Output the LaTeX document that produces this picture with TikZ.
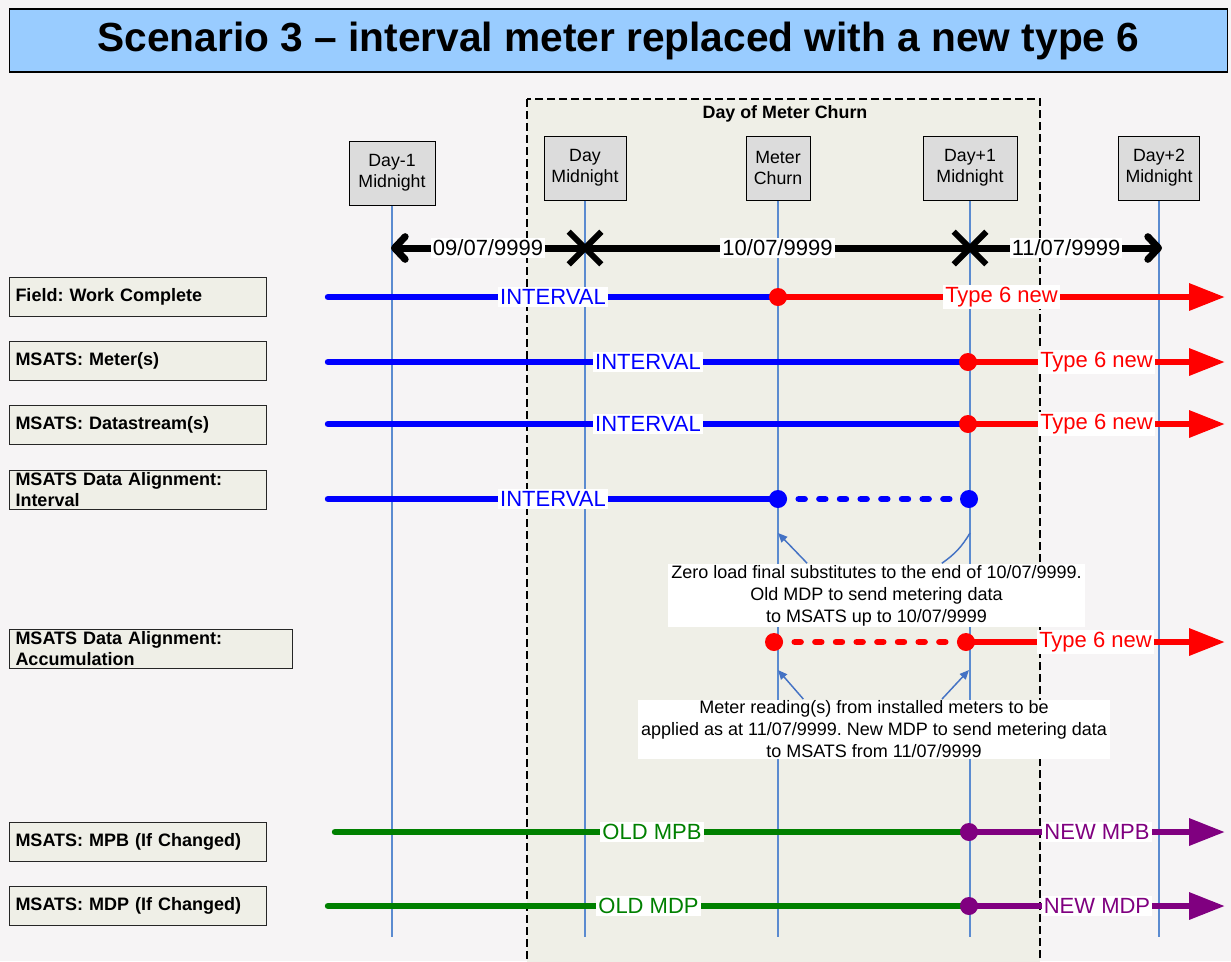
\documentclass[tikz,border=0pt]{standalone}
\usepackage{fontspec}
\setmainfont{Liberation Sans}
\usetikzlibrary{arrows.meta,shapes.misc}

\definecolor{bgc}{RGB}{246,244,245}
\definecolor{titlec}{RGB}{153,204,255}
\definecolor{churnc}{RGB}{239,239,231}
\definecolor{hdrc}{RGB}{220,220,220}
\definecolor{lanec}{RGB}{239,239,231}
\definecolor{tickc}{RGB}{91,139,208}
\definecolor{notec}{RGB}{68,114,196}
\definecolor{oldc}{RGB}{0,128,0}
\definecolor{newc}{RGB}{128,0,128}

\tikzset{every picture/.style={line width=0.75pt}}
\tikzset{
  hdr/.style={draw=black, fill=hdrc, align=center, inner sep=0pt, minimum height=48pt, font=\fontsize{13.3}{15.75}\selectfont},
  lane/.style={draw=black!85, fill=lanec, anchor=west, align=left, text width=183.75pt, inner xsep=4.5pt, inner ysep=1pt, minimum height=29.25pt, font=\bfseries\fontsize{13.5}{15.75}\selectfont},
  tick/.style={color=tickc, line width=0.9pt},
  band/.style={line width=4.8pt, line cap=round},
  lbl/.style={fill=white, inner sep=1.5pt, font=\fontsize{16.5}{18}\selectfont},
  dot/.style={circle, fill, inner sep=0pt, minimum size=13.5pt},
  tip/.style={-{Triangle[length=27pt,width=19.5pt]}},
  datel/.style={line width=5.25pt, line cap=round},
  xmark/.style={cross out, draw=black, line width=4.5pt, minimum size=20pt, inner sep=0pt},
  note/.style={fill=white, align=center, inner xsep=2.5pt, inner ysep=1pt, font=\fontsize{13.5}{16.5}\selectfont},
  pointer/.style={color=notec, line width=1.1pt},
  gap/.style={dash pattern=on 4.5pt off 11pt},
}

\begin{document}
\frenchspacing
\begin{tikzpicture}[x=0.75pt,y=0.75pt,yscale=-1,xscale=1]
\useasboundingbox (0,0) rectangle (1231,961);
\fill [bgc] (0,0) rectangle (1231,961);

% Title
\draw (618.5,40.5) node (ttl) [draw=black, line width=1.2pt, fill=titlec, minimum width=913.5pt, minimum height=47.25pt, font=\bfseries\fontsize{30.5}{36}\selectfont] {Scenario 3 – interval meter replaced with a new type 6};

% Day of meter churn
\draw [fill=churnc, dash pattern=on 6pt off 3pt, line width=1.1pt] (527,99) rectangle (1040,968);
\draw (785,114) node (churn) [font=\bfseries\fontsize{13.4}{16}\selectfont] {Day of Meter Churn};

% Time headers
\draw (392,173) node (hd1) [hdr, minimum width=64.5pt] {Day-1\\Midnight};
\draw (585,168) node (hd2) [hdr, minimum width=61.5pt] {Day\\Midnight};
\draw (778,168) node (hmc) [hdr, minimum width=48pt] {Meter\\Churn};
\draw (970,168) node (hd3) [hdr, minimum width=70.5pt] {Day+1\\Midnight};
\draw (1159,168) node (hd4) [hdr, minimum width=60.75pt] {Day+2\\Midnight};

\coordinate (bot) at (0,937);
\foreach \h in {hd1,hd2,hmc,hd3,hd4}
  \draw [tick] (\h.south) -- (\h.south |- bot);

% Lanes
\draw (9,297) node (lwork) [lane] {Field: Work Complete};
\draw (9,361) node (lmeter) [lane] {MSATS: Meter(s)};
\draw (9,425) node (lstream) [lane] {MSATS: Datastream(s)};
\draw (9,489.5) node (lint) [lane] {MSATS Data Alignment:\\Interval};
\draw (9,649) node (lacc) [lane, text width=203.25pt] {MSATS Data Alignment:\\Accumulation};
\draw (9,841.5) node (lmpb) [lane] {MSATS: MPB (If Changed)};
\draw (9,905.5) node (lmdp) [lane] {MSATS: MDP (If Changed)};

% Dates
\coordinate (dL) at (391,248);
\coordinate (xa) at (585,248);
\coordinate (xb) at (970,248);
\coordinate (dR) at (1162,248);
\draw [datel, {Straight Barb[length=8pt,width=17pt,round]}-] (dL) -- node [lbl] {09/07/9999} (xa);
\draw [datel] (xa) -- node [lbl] {10/07/9999} (xb);
\draw [datel, -{Straight Barb[length=8pt,width=17pt,round]}] (xb) -- node [lbl] {11/07/9999} (dR);
\draw (xa) node (xam) [xmark] {};
\draw (xb) node (xbm) [xmark] {};

% Field: Work Complete
\coordinate (w0) at (328,297);
\coordinate (w1) at (778,297);
\coordinate (w2) at (1225,297);
\draw [band, blue] (w0) -- node [lbl, text=blue] {INTERVAL} (w1);
\draw [band, red, tip] (w1) -- node [lbl, text=red] {Type 6 new} (w2);
\draw (w1) node (wd) [dot, red] {};

% MSATS: Meter(s)
\coordinate (m0) at (328,362);
\coordinate (m1) at (968,362);
\coordinate (m2) at (1225,362);
\draw [band, blue] (m0) -- node [lbl, text=blue] {INTERVAL} (m1);
\draw [band, red, tip] (m1) -- node [lbl, text=red] {Type 6 new} (m2);
\draw (m1) node (md) [dot, red] {};

% MSATS: Datastream(s)
\coordinate (s0) at (328,424);
\coordinate (s1) at (968,424);
\coordinate (s2) at (1225,424);
\draw [band, blue] (s0) -- node [lbl, text=blue] {INTERVAL} (s1);
\draw [band, red, tip] (s1) -- node [lbl, text=red] {Type 6 new} (s2);
\draw (s1) node (sd) [dot, red] {};

% Data alignment: interval
\coordinate (i0) at (328,499);
\coordinate (i1) at (778,499);
\coordinate (i2) at (969,499);
\draw [band, blue] (i0) -- node [lbl, text=blue] {INTERVAL} (i1);
\draw [band, blue, gap] (i1) -- (i2);
\draw (i1) node (id1) [dot, blue] {};
\draw (i2) node (id2) [dot, blue] {};

% Data alignment: accumulation
\coordinate (a1) at (774,642);
\coordinate (a2) at (966,642);
\coordinate (a3) at (1225,642);
\draw [band, red, gap] (a1) -- (a2);
\draw [band, red, tip] (a2) -- node [lbl, text=red] {Type 6 new} (a3);
\draw (a1) node (ad1) [dot, red] {};
\draw (a2) node (ad2) [dot, red] {};

% MPB
\coordinate (b0) at (335,832);
\coordinate (b1) at (969,832);
\coordinate (b2) at (1225,832);
\draw [band, oldc] (b0) -- node [lbl, text=oldc] {OLD MPB} (b1);
\draw [band, newc, tip] (b1) -- node [lbl, text=newc] {NEW MPB} (b2);
\draw (b1) node (bd) [dot, newc] {};

% MDP
\coordinate (p0) at (328,906);
\coordinate (p1) at (969,906);
\coordinate (p2) at (1225,906);
\draw [band, oldc] (p0) -- node [lbl, text=oldc] {OLD MDP} (p1);
\draw [band, newc, tip] (p1) -- node [lbl, text=newc] {NEW MDP} (p2);
\draw (p1) node (pd) [dot, newc] {};

% Notes
\draw (876.5,595.5) node (note1) [note] {Zero load final substitutes to the end of 10/07/9999.\\Old MDP to send metering data\\to MSATS up to 10/07/9999};
\draw (874,729.5) node (note2) [note] {Meter reading(s) from installed meters to be\\applied as at 11/07/9999. New MDP to send metering data\\to MSATS from 11/07/9999};

\coordinate (n1a) at (778,533);
\coordinate (n1b) at (970,533);
\coordinate (n2a) at (778,670);
\coordinate (n2b) at (969,670);
\draw [pointer, -{Triangle[length=7pt,width=6pt]}] ([xshift=-52pt]note1.north) -- (n1a);
\draw [pointer] ([xshift=49pt]note1.north) to [bend left=12] (n1b);
\draw [pointer, -{Triangle[length=7pt,width=6pt]}] ([xshift=-53pt]note2.north) -- (n2a);
\draw [pointer, -{Triangle[length=7pt,width=6pt]}] ([xshift=51pt]note2.north) -- (n2b);

\end{tikzpicture}
\end{document}
